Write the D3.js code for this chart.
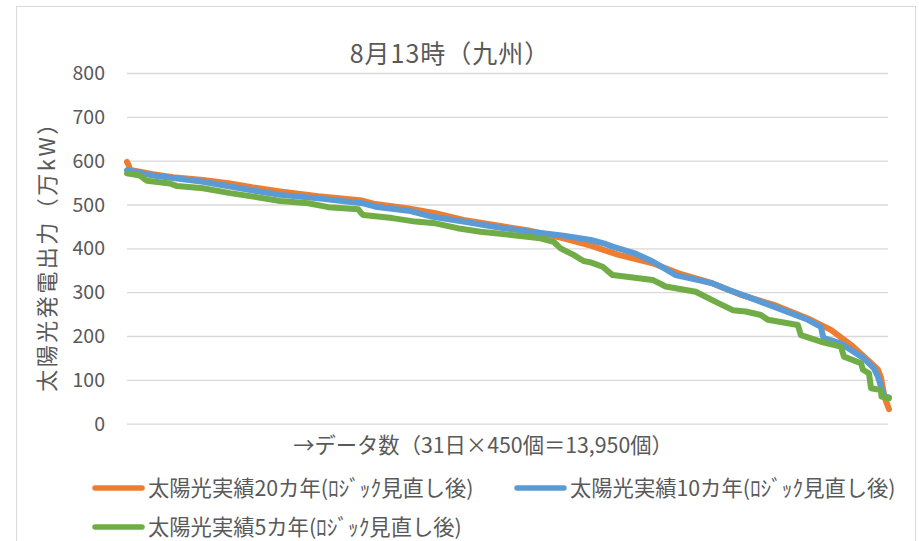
<!DOCTYPE html>
<html>
<head>
<meta charset="utf-8">
<script src="https://cdn.jsdelivr.net/npm/d3@7/dist/d3.min.js"></script>
<style>
  html, body { margin: 0; padding: 0; background: #fff; }
  svg text { font-family: "Noto Sans CJK JP", "Noto Sans", sans-serif; fill: #595959; }
</style>
</head>
<body>
<svg id="chart" width="919" height="541"></svg>
<script>
// Duration curves: solar output sorted descending, 13,950 samples (31 days x 450).
// Each series is a list of [rank, value(万kW)] points along the curve.
const totalCount = 13950;
const yTicks = [0, 100, 200, 300, 400, 500, 600, 700, 800];

const seriesNames = [
  "太陽光実績20カ年(ﾛｼﾞｯｸ見直し後)",
  "太陽光実績10カ年(ﾛｼﾞｯｸ見直し後)",
  "太陽光実績5カ年(ﾛｼﾞｯｸ見直し後)"
];
const seriesColors = ["#ED7D31", "#5B9BD5", "#70AD47"];

const solar20 = [
  [0,597],[30,590],[55,580],[110,578],[477,569],[843,562],[1393,556],[1888,548],
  [2310,539],[2805,530],[3501,519],[4307,509],[4546,501],[5151,491],[5646,480],
  [6159,465],[6782,452],[7387,440],[7992,423],[8487,406],[9000,385],[9623,366],
  [10100,343],[10723,320],[11236,294],[11841,271],[12465,240],[12886,214],
  [13253,180],[13564,145],[13748,123],[13803,105],[13830,85],[13870,60],[13949,33]
];
const solar10 = [
  [0,578],[110,576],[477,566],[1393,552],[1888,541],[2310,532],[2805,522],
  [3501,514],[4307,503],[4546,495],[5151,486],[5600,472],[6159,461],[6782,448],
  [7387,438],[7992,429],[8487,419],[8762,410],[8890,404],[9311,388],[9623,370],
  [10045,339],[10723,320],[11016,305],[11328,291],[11841,267],[12465,237],
  [12703,221],[12740,200],[12758,195],[13069,183],[13491,149],[13674,126],
  [13748,107],[13839,70],[13870,62],[13949,60]
];
const solar5 = [
  [0,571],[238,566],[300,560],[367,554],[788,548],[917,542],[1393,537],[1888,526],
  [2310,518],[2805,508],[3318,503],[3684,494],[4234,489],[4290,480],[4326,476],
  [4857,469],[5279,461],[5646,457],[6049,446],[6471,438],[7075,430],[7570,423],
  [7809,415],[7937,400],[8175,385],[8358,371],[8487,368],[8707,358],[8890,339],
  [9623,328],[9861,313],[10411,301],[10778,278],[11090,259],[11328,256],
  [11603,248],[11731,237],[12281,225],[12336,202],[12703,187],[13069,176],
  [13124,153],[13436,138],[13473,123],[13583,115],[13619,81],[13803,77],
  [13810,62],[13949,58]
];
const seriesData = [solar20, solar10, solar5];

const svg = d3.select("#chart");

// chart frame
svg.append("rect")
  .attr("x", 16.5).attr("y", 6.5).attr("width", 899).attr("height", 560)
  .attr("fill", "#fff").attr("stroke", "#D9D9D9").attr("stroke-width", 1);

const plot = { left: 127, right: 888, top: 73, bottom: 423.7 };

const x = d3.scaleLinear().domain([0, totalCount - 1]).range([plot.left, plot.right + 1]);
const y = d3.scaleLinear().domain([0, 800]).range([plot.bottom, plot.top]);

// horizontal gridlines and tick labels
const yAxis = d3.axisLeft(y).tickValues(yTicks)
  .tickSize(-(plot.right - plot.left)).tickPadding(22).tickFormat(d3.format("d"));
const gy = svg.append("g").attr("transform", `translate(${plot.left},0)`).call(yAxis);
gy.select(".domain").remove();
gy.selectAll(".tick line").attr("stroke", "#D9D9D9").attr("stroke-width", 1.3);
gy.selectAll(".tick text")
  .style("font-size", "19.5px").style("fill", "#595959").attr("dy", "0.34em");

// series lines
const line = d3.line().x(d => x(d[0])).y(d => y(d[1]));
seriesData.forEach((data, i) => {
  svg.append("path")
    .datum(data)
    .attr("d", line)
    .attr("fill", "none")
    .attr("stroke", seriesColors[i])
    .attr("stroke-width", 6)
    .attr("stroke-linejoin", "round")
    .attr("stroke-linecap", "round");
});

// chart title
svg.append("text")
  .attr("x", 450).attr("y", 63)
  .attr("text-anchor", "middle")
  .style("font-size", "25px")
  .style("letter-spacing", "1px")
  .text("8月13時（九州）");

// y axis title
svg.append("text")
  .attr("transform", "translate(55,251) rotate(-90)")
  .attr("text-anchor", "middle")
  .style("font-size", "22px")
  .style("letter-spacing", "2.5px")
  .text("太陽光発電出力（万kW）");

// x axis title
svg.append("text")
  .attr("x", 483).attr("y", 453)
  .attr("text-anchor", "middle")
  .style("font-size", "21.3px")
  .text("→データ数（31日×450個＝13,950個）");

// legend
const legendItems = [
  { lx: 93, ly: 488 },
  { lx: 515, ly: 488 },
  { lx: 93, ly: 527 }
];
legendItems.forEach((p, i) => {
  const g = svg.append("g").attr("transform", `translate(${p.lx},${p.ly})`);
  g.append("line")
    .attr("x1", 2).attr("x2", 49).attr("y1", 0).attr("y2", 0)
    .attr("stroke", seriesColors[i]).attr("stroke-width", 5.5)
    .attr("stroke-linecap", "round");
  g.append("text")
    .attr("x", 55).attr("y", 0).attr("dy", "0.36em")
    .style("font-size", "21.3px")
    .text(seriesNames[i]);
});
</script>
</body>
</html>
